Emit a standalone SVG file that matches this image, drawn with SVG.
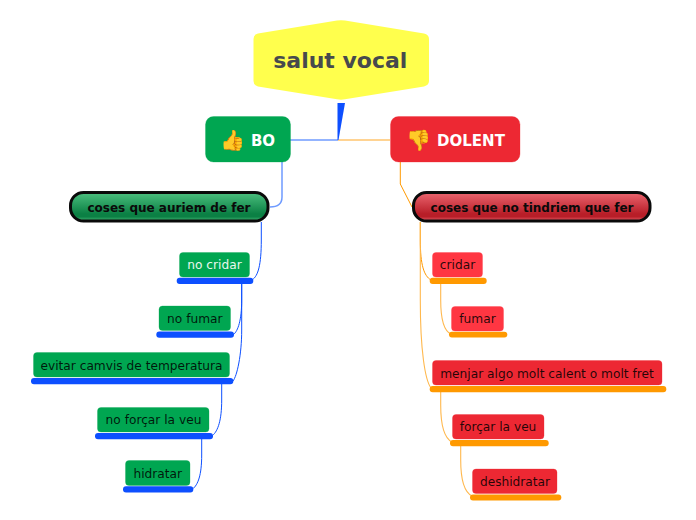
<svg xmlns="http://www.w3.org/2000/svg" width="696" height="520" viewBox="0 0 696 520">
<style>
text{font-family:"DejaVu Sans",sans-serif;text-anchor:middle}
.leaf{font-size:12.200px;fill:#000;fill-opacity:.85}
.pilltxt{font-size:12px;font-weight:bold;fill:#0a0a0a}
.head{font-size:15px;font-weight:bold;fill:#fff}
.emoji{font-size:20px}
.g{fill:#00a651;stroke:#00a651;stroke-opacity:.3}
.r{fill:#ed2833;stroke:#ed2833;stroke-opacity:.3}
.r2{fill:#ff3642;stroke:#ff3642;stroke-opacity:.3}
.bb{fill:#0d4fff}
.ob{fill:#ff9900}
.cb,.co,.cbl,.col,.cl{fill:none}
.cb{stroke:#0d4fff;stroke-width:1}
.co{stroke:#ff9900;stroke-width:1}
.cl{stroke:#ffb84d;stroke-width:1.1}
.cbl{stroke:#6f9bff;stroke-width:1.5}
.col{stroke:#ffc46e;stroke-width:1.5}
.pill{stroke:#0a0a0a;stroke-width:3}
</style>
<defs>
<linearGradient id="gg" x1="0" y1="0" x2="0" y2="1">
<stop offset="0" stop-color="#4cc07f"/><stop offset=".75" stop-color="#0b8044"/><stop offset=".85" stop-color="#0b8044"/><stop offset="1" stop-color="#45b877"/>
</linearGradient>
<linearGradient id="rg" x1="0" y1="0" x2="0" y2="1">
<stop offset="0" stop-color="#ec6670"/><stop offset=".75" stop-color="#b81e28"/><stop offset=".85" stop-color="#b81e28"/><stop offset="1" stop-color="#e8616b"/>
</linearGradient>
</defs>
<g id="connectors">
<path class="cbl" d="M290 140H338"/>
<path class="col" d="M338 140H390"/>
<path d="M337.500 103H345L338.500 140H337.500Z" fill="#0d4fff"/>
<path class="cbl" d="M282 162V197Q282 207 270 207"/>
<path class="co" d="M400.300 162V184L412 207"/>
<path class="cb" d="M261.300 222V240C261.300 265 258 276 252.500 279.500"/>
<path class="cb" d="M241.700 284V300C241.700 320 238 331 233.500 334.500"/>
<path class="cb" d="M241.700 284V330C241.700 355 237 376 233 381"/>
<path class="cb" d="M221.700 384V400C221.700 420 218 431 212.500 435.500"/>
<path class="cb" d="M201.700 439V455C201.700 475 198 485 192.500 489"/>
<path class="co" d="M420.300 222V240C420.300 265 424 276 431 280"/>
<path class="cl" d="M420.300 222V300C420.300 350 425 380 431 388"/>
<path class="cl" d="M440.700 284V300C440.700 320 444 331 451 334"/>
<path class="cl" d="M440.700 392V405C440.700 425 444 438 452 442"/>
<path class="cl" d="M460.700 446V460C460.700 480 464 492 472 496"/>
</g>
<g id="central">
<path d="M337 20.500Q341 20 345 20.500L424 33.500Q429 34.500 429 39V81Q429 85 424 86.500L345 99.300Q341 100 337 99.300L258 86.500Q253.500 85 253.500 81V39Q253.500 34.500 258 33.500Z" fill="#ffff4d"/>
<text x="340.300" y="67.500" font-size="22" font-weight="bold" fill="#474a4d">salut vocal</text>
</g>
<g id="bo">
<rect class="g" x="205.500" y="116.500" width="85" height="45.500" rx="8"/>
<text class="head" x="263" y="146">BO</text>
<text class="emoji" x="232.700" y="147">👍</text>
</g>
<g id="dolent">
<rect class="r" x="390.500" y="116.500" width="129.500" height="45.500" rx="8"/>
<text class="head" x="471" y="146">DOLENT</text>
<text class="emoji" x="418" y="147">👎</text>
</g>
<g id="pill-bo">
<rect class="pill" x="70.500" y="192.500" width="197.500" height="28.500" rx="13" fill="url(#gg)"/>
<text class="pilltxt" x="169" y="212">coses que auriem de fer</text>
</g>
<g id="pill-dolent">
<rect class="pill" x="413.500" y="192.500" width="236.500" height="28.500" rx="13" fill="url(#rg)"/>
<text class="pilltxt" x="532" y="212">coses que no tindriem que fer</text>
</g>
<g id="g1"><rect class="bb" x="176.700" y="277.700" width="76.600" height="6.300" rx="3"/><rect class="g" x="179.500" y="252.500" width="70" height="24.500" rx="3.500"/><text class="leaf" x="214.500" y="269" style="fill:#e8f7ee;fill-opacity:1">no cridar</text></g>
<g id="g2"><rect class="bb" x="156.300" y="331.500" width="77.700" height="6.300" rx="3"/><rect class="g" x="159" y="306" width="71.500" height="24.500" rx="3.500"/><text class="leaf" x="194.800" y="323">no fumar</text></g>
<g id="g3"><rect class="bb" x="31" y="378" width="202.300" height="6.300" rx="3"/><rect class="g" x="33.500" y="352.500" width="196" height="24.500" rx="3.500"/><text class="leaf" x="131.500" y="370">evitar camvis de temperatura</text></g>
<g id="g4"><rect class="bb" x="95" y="433" width="118" height="6.300" rx="3"/><rect class="g" x="97.500" y="407.500" width="111.500" height="24.500" rx="3.500"/><text class="leaf" x="153.500" y="424">no forçar la veu</text></g>
<g id="g5"><rect class="bb" x="123" y="486.300" width="70.300" height="6.300" rx="3"/><rect class="g" x="125.500" y="460.500" width="64.500" height="25" rx="3.500"/><text class="leaf" x="157.800" y="478">hidratar</text></g>
<g id="r1"><rect class="ob" x="429.700" y="277.700" width="57" height="6.300" rx="3"/><rect class="r2" x="432.500" y="252.500" width="50" height="24.500" rx="3.500"/><text class="leaf" x="457.500" y="269">cridar</text></g>
<g id="r2"><rect class="ob" x="449" y="331.700" width="58.300" height="5.800" rx="2.900"/><rect class="r2" x="451.500" y="306.500" width="52" height="24.500" rx="3.500"/><text class="leaf" x="477.500" y="323">fumar</text></g>
<g id="r3"><rect class="ob" x="429.700" y="386" width="236.600" height="6.300" rx="3"/><rect class="r" x="432.500" y="360.500" width="229.500" height="24.500" rx="3.500"/><text class="leaf" x="547" y="378">menjar algo molt calent o molt fret</text></g>
<g id="r4"><rect class="ob" x="450" y="440" width="98.700" height="6.300" rx="3"/><rect class="r" x="452.500" y="414.500" width="91.500" height="24.500" rx="3.500"/><text class="leaf" x="498" y="431">forçar la veu</text></g>
<g id="r5"><rect class="ob" x="470" y="494.500" width="91.300" height="6" rx="3"/><rect class="r" x="472.500" y="469" width="84.500" height="24.500" rx="3.500"/><text class="leaf" x="515" y="486">deshidratar</text></g>
</svg>
